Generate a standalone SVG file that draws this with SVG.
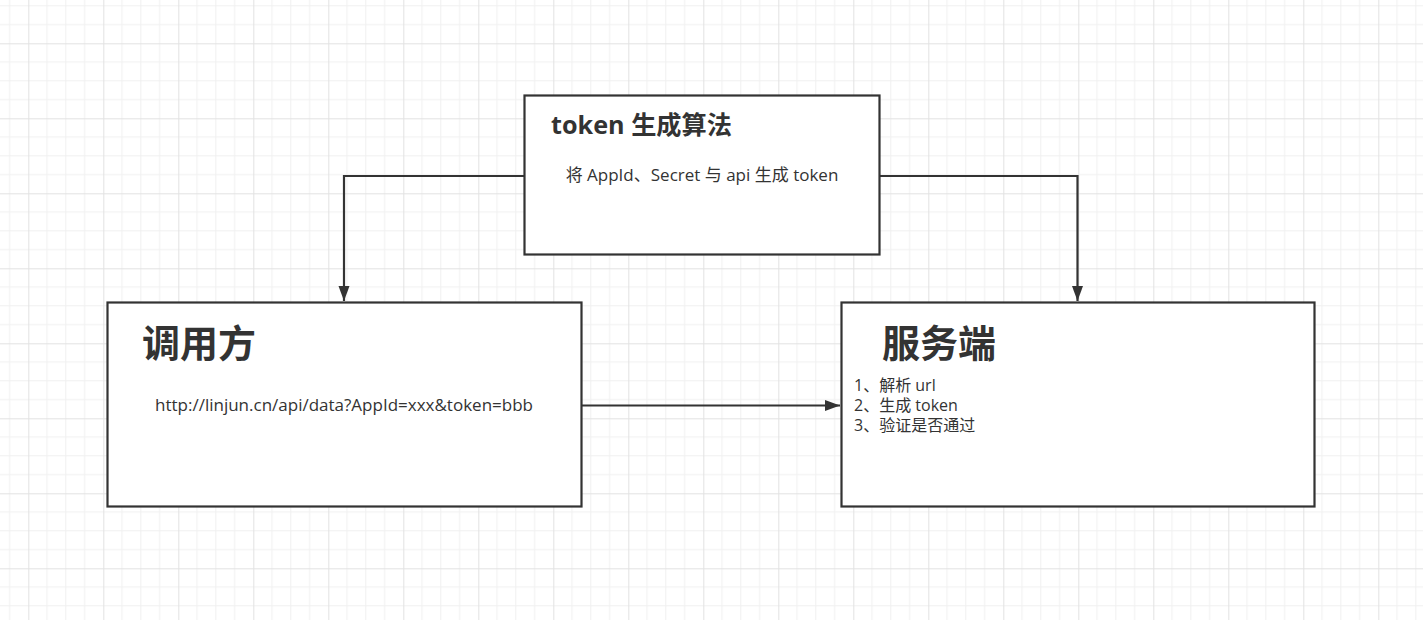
<svg xmlns="http://www.w3.org/2000/svg" width="1423" height="620" viewBox="0 0 1423 620">
<style>
.box{fill:#ffffff;stroke:#333333;stroke-width:2.2}
.edge{fill:none;stroke:#333333;stroke-width:2.2}
.t{font-family:"Open Sans","Noto Sans CJK SC",sans-serif;fill:#333333}
.h1{font-size:25.2px;font-weight:bold}
.h2{font-size:38px;font-weight:bold;font-family:"Noto Sans CJK SC",sans-serif}
.b{font-size:17px}
.l{font-size:16px}
</style>
<defs>
<pattern id="grid" patternUnits="userSpaceOnUse" x="28.3" y="43.3" width="75" height="75">
<path d="M18.75,0V75M37.5,0V75M56.25,0V75M0,18.75H75M0,37.5H75M0,56.25H75" stroke="#f0f0f0" stroke-width="1" fill="none"/>
<path d="M0.5,0V75M0,0.5H75" stroke="#e2e2e2" stroke-width="1" fill="none"/>
</pattern>
<marker id="arr" markerUnits="userSpaceOnUse" markerWidth="16" markerHeight="12" refX="15" refY="5.5" orient="auto">
<path d="M0,0L15,5.5L0,11z" fill="#333333"/>
</marker>
</defs>
<rect width="1423" height="620" fill="#ffffff"/>
<rect width="1423" height="620" fill="url(#grid)"/>
<g id="connectors">
<path class="edge" d="M524,176H344V301" marker-end="url(#arr)"/>
<path class="edge" d="M880,176H1077.5V301" marker-end="url(#arr)"/>
<path class="edge" d="M582,405.5H840" marker-end="url(#arr)"/>
</g>
<g id="token-node">
<rect class="box" x="524.5" y="95.5" width="355" height="159"/>
<text class="t h1" x="551" y="134">token 生成算法</text>
<text class="t b" x="702" y="181" text-anchor="middle">将 AppId、Secret 与 api 生成 token</text>
</g>
<g id="caller-node">
<rect class="box" x="107.5" y="302.5" width="474" height="204"/>
<text class="t h2" x="142" y="357">调用方</text>
<text class="t b" x="344" y="411" text-anchor="middle">http://linjun.cn/api/data?AppId=xxx&amp;token=bbb</text>
</g>
<g id="server-node">
<rect class="box" x="841.5" y="302.5" width="473" height="204"/>
<text class="t h2" x="882" y="357">服务端</text>
<text class="t l" x="854" y="391">1、解析 url</text>
<text class="t l" x="854" y="411">2、生成 token</text>
<text class="t l" x="854" y="431">3、验证是否通过</text>
</g>
</svg>
